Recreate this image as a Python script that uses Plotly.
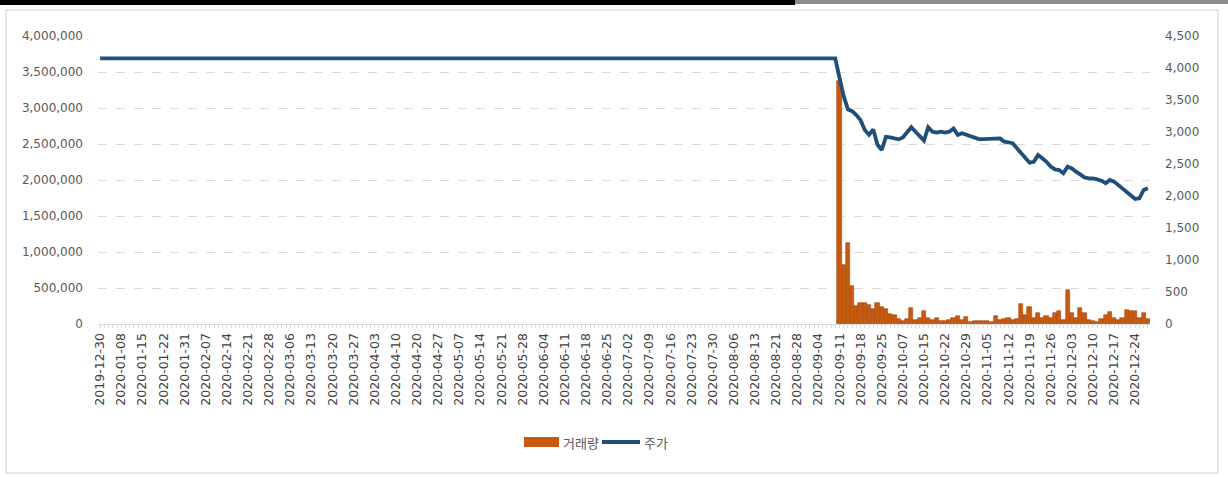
import pandas as pd
import plotly.graph_objects as go

# KRX trading calendar (weekday closures)
holidays = [
    "2019-12-31", "2020-01-01", "2020-01-24", "2020-01-27", "2020-04-15",
    "2020-04-30", "2020-05-01", "2020-05-05", "2020-08-17", "2020-09-30",
    "2020-10-01", "2020-10-02", "2020-10-09", "2020-12-25",
]
dates = [d.strftime("%Y-%m-%d")
         for d in pd.bdate_range("2019-12-30", "2020-12-30")
         if d.strftime("%Y-%m-%d") not in holidays]

listing_date = "2020-09-11"
listed_dates = dates[dates.index(listing_date):]

# offering price held until the listing day
pre_listing_price = [4150] * dates.index(listing_date)

listed_price = [
    3850, 3560, 3355, 3325, 3265, 3185, 3030, 2955, 3040, 2800,
    2720, 2925, 2915, 2900, 2885, 2915, 3005, 3075, 3005, 2925,
    2865, 3075, 3005, 2990, 3005, 2990, 3005, 3055, 2955, 2980,
    2955, 2925, 2900, 2890, 2890, 2890, 2890, 2895, 2900, 2850,
    2835, 2825, 2745, 2665, 2590, 2520, 2535, 2640, 2590, 2535,
    2460, 2415, 2405, 2355, 2460, 2430, 2380, 2330, 2290, 2275,
    2275, 2260, 2240, 2200, 2250, 2225, 2170, 2120, 2070, 2000,
    1955, 1965, 2095, 2120,
]
price = pre_listing_price + listed_price

volume = [
    3370000, 819000, 1120000, 532000, 255000, 287000, 296000, 264000, 204000, 296000,
    231000, 204000, 134000, 125000, 65000, 46000, 65000, 218000, 56000, 88000,
    185000, 88000, 56000, 79000, 46000, 42000, 56000, 79000, 111000, 56000,
    102000, 32000, 42000, 42000, 42000, 42000, 32000, 111000, 56000, 65000,
    79000, 56000, 65000, 278000, 125000, 241000, 88000, 148000, 79000, 111000,
    79000, 148000, 181000, 56000, 472000, 148000, 79000, 218000, 157000, 56000,
    42000, 32000, 65000, 125000, 171000, 79000, 56000, 79000, 194000, 185000,
    181000, 88000, 157000, 65000,
]

tick_labels = [d if i % 5 == 0 else "" for i, d in enumerate(dates)]

BAR_COLOR = "#C55A11"
LINE_COLOR = "#1F4E79"
TEXT_COLOR = "#595959"
DATE_COLOR = "#404040"
GRID_COLOR = "#D9D9D9"
FONT = "Noto Sans CJK KR"
NUM_FONT = "DejaVu Sans"

W, H = 1228, 477
L, R, T, B = 98, 1150, 36, 324


def px(x):
    return (x - L) / (R - L)


def py(y):
    return (B - y) / (B - T)


fig = go.Figure()
fig.add_trace(go.Bar(
    x=listed_dates, y=volume, name="거래량",
    marker=dict(color=BAR_COLOR, line=dict(color="#A9480C", width=0.6)),
    yaxis="y",
))
fig.add_trace(go.Scatter(
    x=dates, y=price, name="주가", mode="lines",
    line=dict(color=LINE_COLOR, width=3.8, shape="linear"),
    yaxis="y2",
))

shapes = [
    # outer chart frame
    dict(type="rect", xref="paper", yref="paper",
         x0=px(6), x1=px(1218), y0=py(473), y1=py(10),
         line=dict(color="#D0D0D0", width=1), fillcolor="rgba(0,0,0,0)", layer="below"),
    # dark strip along the top edge
    dict(type="rect", xref="paper", yref="paper",
         x0=px(0), x1=px(795), y0=py(5), y1=py(0),
         line=dict(width=0), fillcolor="#000000"),
    dict(type="rect", xref="paper", yref="paper",
         x0=px(795), x1=px(1228), y0=py(4), y1=py(0),
         line=dict(width=0), fillcolor="#8C8C8C"),
    # legend swatches
    dict(type="rect", xref="paper", yref="paper",
         x0=px(524), x1=px(559), y0=py(447), y1=py(437),
         line=dict(width=0), fillcolor=BAR_COLOR),
    dict(type="line", xref="paper", yref="paper",
         x0=px(602), x1=px(640), y0=py(442), y1=py(442),
         line=dict(color=LINE_COLOR, width=3.8)),
]

annotations = [
    dict(text="거래량", xref="paper", yref="paper", x=px(561), y=py(442),
         xanchor="left", yanchor="middle", showarrow=False,
         font=dict(family=FONT, size=13, color=TEXT_COLOR)),
    dict(text="주가", xref="paper", yref="paper", x=px(642), y=py(442),
         xanchor="left", yanchor="middle", showarrow=False,
         font=dict(family=FONT, size=13, color=TEXT_COLOR)),
]

fig.update_layout(
    width=W, height=H,
    margin=dict(l=L, r=W - R, t=T, b=H - B),
    paper_bgcolor="white", plot_bgcolor="white",
    showlegend=False, bargap=0,
    font=dict(family=FONT, color=TEXT_COLOR),
    xaxis=dict(
        type="category", categoryorder="array", categoryarray=dates,
        range=[-0.5, len(dates) - 0.5],
        tickmode="array", tickvals=dates, ticktext=tick_labels,
        tickangle=-90, tickfont=dict(family=NUM_FONT, size=12.5, color=DATE_COLOR),
        ticks="outside", ticklen=3, tickcolor=GRID_COLOR, tickwidth=1,
        showgrid=False, showline=True, linecolor=GRID_COLOR, linewidth=1,
    ),
    yaxis=dict(
        range=[0, 4000000], dtick=500000, tickformat=",",
        tickfont=dict(family=NUM_FONT, size=12, color=TEXT_COLOR),
        showgrid=True, gridcolor=GRID_COLOR, griddash="dash", gridwidth=1,
        zeroline=False, showline=False, ticks="", ticklabelstandoff=14,
    ),
    yaxis2=dict(
        range=[0, 4500], dtick=500, tickformat=",",
        overlaying="y", side="right",
        tickfont=dict(family=NUM_FONT, size=12, color=TEXT_COLOR),
        showgrid=False, zeroline=False, showline=False, ticks="",
        ticklabelstandoff=14,
    ),
    shapes=shapes,
    annotations=annotations,
)

fig.write_html("out.html")
